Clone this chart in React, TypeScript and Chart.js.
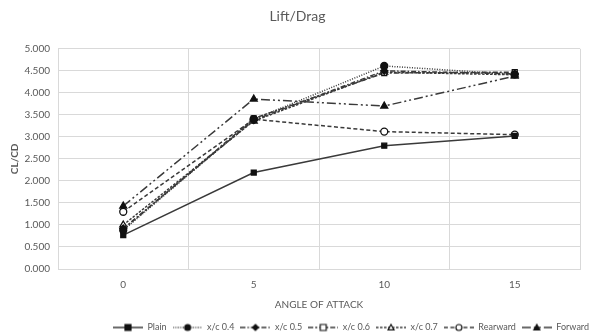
import React, { useEffect, useRef } from 'react';
import { Chart, registerables } from 'chart.js';

Chart.register(...registerables);

const categories = ['0', '5', '10', '15'];
const seriesNames = ['Plain', 'x/c 0.4', 'x/c 0.5', 'x/c 0.6', 'x/c 0.7', 'Rearward', 'Forward'];
const plain = [0.77, 2.19, 2.8, 3.02];
const xc04 = [0.88, 3.4, 4.61, 4.42];
const xc05 = [0.92, 3.38, 4.5, 4.43];
const xc06 = [0.9, 3.42, 4.45, 4.47];
const xc07 = [1.0, 3.36, 4.47, 4.41];
const rearward = [1.3, 3.4, 3.12, 3.05];
const forward = [1.43, 3.86, 3.7, 4.38];
const yMin = 0;
const yMax = 5;
const yStep = 0.5;

const seriesValues = [plain, xc04, xc05, xc06, xc07, rearward, forward];

type Style = { dash: number[]; marker: string; filled: boolean; radius: number };
const styles: Style[] = [
  { dash: [], marker: 'rect', filled: true, radius: 3.5 },
  { dash: [1, 1.5], marker: 'circle', filled: true, radius: 3.5 },
  { dash: [5, 2, 1.5, 2], marker: 'rectRot', filled: true, radius: 3.5 },
  { dash: [5, 2, 2, 2], marker: 'rect', filled: false, radius: 3.5 },
  { dash: [2.5, 1.5], marker: 'triangle', filled: false, radius: 4 },
  { dash: [4, 2.5], marker: 'circle', filled: false, radius: 3.5 },
  { dash: [9, 3, 2, 3, 2, 3], marker: 'triangle', filled: true, radius: 4 },
];

const LINE = '#3a3a3a';
const MARK = '#111111';
const TEXT = '#595959';
const GRID = '#d9d9d9';
const FONT = "Lato, 'Open Sans', sans-serif";

function legendImage(s: Style): HTMLCanvasElement {
  const c = document.createElement('canvas');
  c.width = 30;
  c.height = 10;
  const ctx = c.getContext('2d')!;
  ctx.strokeStyle = LINE;
  ctx.lineWidth = 1.5;
  ctx.setLineDash(s.dash);
  ctx.beginPath();
  ctx.moveTo(0, 5);
  ctx.lineTo(30, 5);
  ctx.stroke();
  ctx.setLineDash([]);
  ctx.fillStyle = s.filled ? MARK : '#ffffff';
  ctx.strokeStyle = MARK;
  ctx.lineWidth = 1.2;
  const r = 3;
  const cx = 15, cy = 5;
  ctx.beginPath();
  if (s.marker === 'rect') {
    ctx.rect(cx - r, cy - r, 2 * r, 2 * r);
  } else if (s.marker === 'circle') {
    ctx.arc(cx, cy, r, 0, Math.PI * 2);
  } else if (s.marker === 'rectRot') {
    ctx.moveTo(cx, cy - r);
    ctx.lineTo(cx + r, cy);
    ctx.lineTo(cx, cy + r);
    ctx.lineTo(cx - r, cy);
    ctx.closePath();
  } else {
    ctx.moveTo(cx, cy - r);
    ctx.lineTo(cx + r, cy + r * 0.8);
    ctx.lineTo(cx - r, cy + r * 0.8);
    ctx.closePath();
  }
  ctx.fill();
  ctx.stroke();
  return c;
}

export default function App() {
  const ref = useRef<HTMLCanvasElement>(null);
  useEffect(() => {
    document.body.style.margin = '0';
    const images = styles.map(legendImage);
    const chart = new Chart(ref.current!, {
      type: 'line',
      data: {
        labels: categories,
        datasets: seriesNames.map((name, i) => ({
          label: name,
          data: seriesValues[i],
          borderColor: LINE,
          borderWidth: 1.5,
          borderDash: styles[i].dash,
          pointStyle: styles[i].marker as any,
          pointRadius: styles[i].radius,
          pointBackgroundColor: styles[i].filled ? MARK : '#ffffff',
          pointBorderColor: MARK,
          pointBorderWidth: 1.3,
          tension: 0,
          fill: false,
        })),
      },
      options: {
        animation: false,
        responsive: false,
        layout: { padding: { left: 0, right: 6, top: 0, bottom: -6 } },
        plugins: {
          title: {
            display: true,
            text: 'Lift/Drag',
            color: TEXT,
            font: { family: FONT, size: 14, weight: 'normal' },
            padding: { top: 8, bottom: 24 },
          },
          legend: {
            position: 'bottom',
            align: 'end',
            labels: {
              usePointStyle: true,
              pointStyleWidth: 30,
              boxHeight: 10,
              padding: 6,
              color: TEXT,
              font: { family: FONT, size: 9 },
              generateLabels: (ch: any) => {
                const items = Chart.defaults.plugins.legend.labels.generateLabels(ch);
                return items.map((it: any, i: number) => ({ ...it, pointStyle: images[i], lineDash: [] }));
              },
            },
          },
          tooltip: { enabled: false },
        },
        scales: {
          x: {
            type: 'category',
            offset: true,
            afterFit: (s: any) => { s.height = 48; },
            grid: { offset: true, color: GRID, drawTicks: false },
            border: { color: GRID },
            ticks: { color: TEXT, font: { family: FONT, size: 10 }, padding: 10 },
            title: {
              display: true,
              text: 'ANGLE OF ATTACK',
              color: TEXT,
              font: { family: FONT, size: 10 },
              padding: { top: 4, bottom: 6 },
            },
          },
          y: {
            min: yMin,
            max: yMax,
            afterFit: (s: any) => { s.width = 58; },
            grid: { color: GRID, drawTicks: false },
            border: { display: false },
            ticks: {
              stepSize: yStep,
              color: TEXT,
              font: { family: FONT, size: 10 },
              padding: 8,
              callback: (v: any) => Number(v).toFixed(3),
            },
            title: {
              display: true,
              text: 'CL/CD',
              color: TEXT,
              font: { family: FONT, size: 10, weight: 'bold' },
              padding: { top: 9, bottom: 0 },
            },
          },
          yr: {
            position: 'right',
            display: true,
            afterFit: (s: any) => { s.width = 15; },
            grid: { display: false },
            border: { display: false },
            ticks: { display: false },
          },
        },
      } as any,
    });
    return () => chart.destroy();
  }, []);
  return (
    <div style={{ width: 601, height: 336 }}>
      <canvas ref={ref} width={601} height={336} />
    </div>
  );
}
